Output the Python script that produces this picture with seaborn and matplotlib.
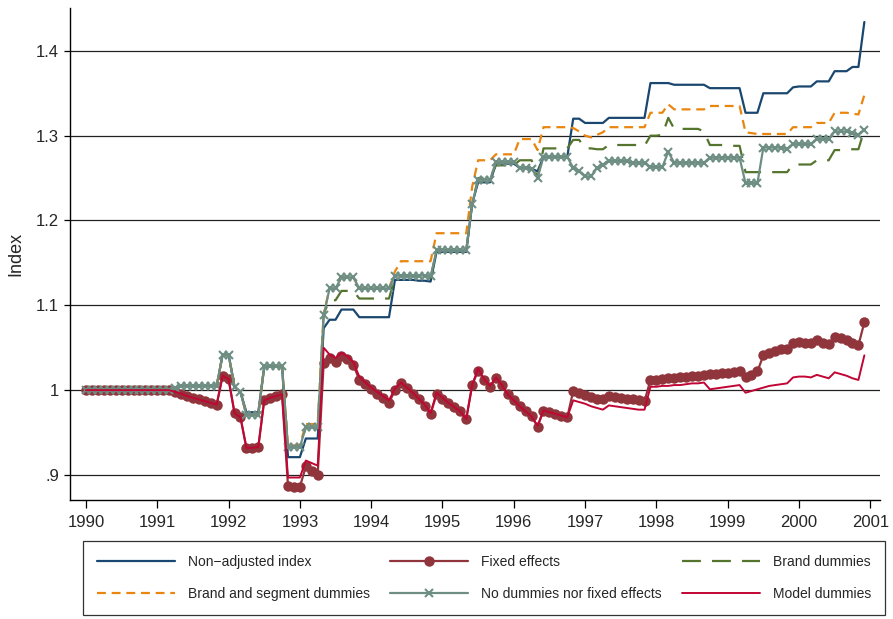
import numpy as np
import pandas as pd
import matplotlib
matplotlib.use("Agg")
import matplotlib.pyplot as plt
import seaborn as sns

# monthly observations, Jan 1990 .. Dec 2000 (one row of 12 per year)
start_year = 1990
n_months = 132

non_adjusted = [
    1.000, 1.000, 1.000, 1.000, 1.000, 1.000, 1.000, 1.000, 1.000, 1.000, 1.000, 1.000,
    1.000, 1.000, 1.000, 1.003, 1.005, 1.005, 1.005, 1.005, 1.005, 1.005, 1.005, 1.042,
    1.042, 1.004, 0.998, 0.974, 0.974, 0.974, 1.028, 1.028, 1.028, 1.028, 0.921, 0.921,
    0.921, 0.943, 0.943, 0.943, 1.073, 1.083, 1.083, 1.095, 1.095, 1.095, 1.086, 1.086,
    1.086, 1.086, 1.086, 1.086, 1.130, 1.130, 1.130, 1.130, 1.129, 1.129, 1.128, 1.163,
    1.163, 1.163, 1.163, 1.163, 1.163, 1.220, 1.245, 1.245, 1.245, 1.267, 1.267, 1.267,
    1.267, 1.262, 1.262, 1.261, 1.258, 1.275, 1.275, 1.275, 1.275, 1.275, 1.320, 1.320,
    1.315, 1.315, 1.315, 1.315, 1.321, 1.321, 1.321, 1.321, 1.321, 1.321, 1.321, 1.362,
    1.362, 1.362, 1.362, 1.360, 1.360, 1.360, 1.360, 1.360, 1.360, 1.356, 1.356, 1.356,
    1.356, 1.356, 1.356, 1.327, 1.327, 1.327, 1.350, 1.350, 1.350, 1.350, 1.350, 1.357,
    1.358, 1.358, 1.358, 1.364, 1.364, 1.364, 1.376, 1.376, 1.376, 1.381, 1.381, 1.434,
]

fixed_effects = [
    1.000, 1.000, 1.000, 1.000, 1.000, 1.000, 1.000, 1.000, 1.000, 1.000, 1.000, 1.000,
    1.000, 1.000, 1.000, 0.998, 0.996, 0.993, 0.991, 0.989, 0.987, 0.985, 0.983, 1.017,
    1.013, 0.973, 0.968, 0.932, 0.932, 0.933, 0.988, 0.991, 0.993, 0.995, 0.887, 0.886,
    0.886, 0.910, 0.905, 0.900, 1.032, 1.038, 1.033, 1.040, 1.037, 1.030, 1.012, 1.007,
    1.001, 0.996, 0.991, 0.985, 1.000, 1.008, 1.002, 0.996, 0.989, 0.981, 0.972, 0.995,
    0.990, 0.985, 0.980, 0.975, 0.966, 1.006, 1.023, 1.012, 1.004, 1.014, 1.006, 0.995,
    0.988, 0.981, 0.975, 0.969, 0.957, 0.976, 0.974, 0.972, 0.970, 0.968, 0.999, 0.997,
    0.994, 0.992, 0.990, 0.989, 0.993, 0.992, 0.991, 0.990, 0.989, 0.988, 0.987, 1.012,
    1.012, 1.013, 1.014, 1.014, 1.015, 1.016, 1.017, 1.017, 1.018, 1.019, 1.019, 1.020,
    1.020, 1.021, 1.022, 1.016, 1.018, 1.022, 1.041, 1.044, 1.046, 1.048, 1.049, 1.055,
    1.057, 1.056, 1.055, 1.059, 1.056, 1.054, 1.063, 1.061, 1.059, 1.056, 1.053, 1.080,
]

brand_dummies = [
    1.000, 1.000, 1.000, 1.000, 1.000, 1.000, 1.000, 1.000, 1.000, 1.000, 1.000, 1.000,
    1.000, 1.000, 1.000, 1.003, 1.005, 1.005, 1.005, 1.005, 1.005, 1.005, 1.005, 1.042,
    1.042, 1.004, 0.998, 0.971, 0.971, 0.971, 1.028, 1.028, 1.028, 1.028, 0.933, 0.933,
    0.933, 0.956, 0.956, 0.956, 1.090, 1.106, 1.106, 1.117, 1.117, 1.117, 1.108, 1.108,
    1.108, 1.108, 1.108, 1.108, 1.133, 1.135, 1.135, 1.135, 1.134, 1.133, 1.132, 1.165,
    1.165, 1.165, 1.165, 1.165, 1.165, 1.220, 1.250, 1.250, 1.250, 1.265, 1.265, 1.265,
    1.265, 1.271, 1.271, 1.271, 1.250, 1.285, 1.285, 1.285, 1.285, 1.285, 1.295, 1.295,
    1.285, 1.285, 1.284, 1.284, 1.289, 1.289, 1.289, 1.289, 1.289, 1.289, 1.288, 1.300,
    1.300, 1.301, 1.321, 1.308, 1.308, 1.308, 1.308, 1.308, 1.305, 1.289, 1.289, 1.289,
    1.288, 1.288, 1.288, 1.257, 1.257, 1.257, 1.257, 1.257, 1.257, 1.257, 1.257, 1.266,
    1.266, 1.266, 1.266, 1.271, 1.271, 1.271, 1.283, 1.283, 1.283, 1.284, 1.284, 1.307,
]

brand_segment = [
    1.000, 1.000, 1.000, 1.000, 1.000, 1.000, 1.000, 1.000, 1.000, 1.000, 1.000, 1.000,
    1.000, 1.000, 1.000, 1.003, 1.005, 1.005, 1.005, 1.005, 1.005, 1.005, 1.005, 1.042,
    1.042, 1.004, 0.998, 0.971, 0.971, 0.971, 1.028, 1.028, 1.028, 1.028, 0.935, 0.935,
    0.935, 0.960, 0.960, 0.960, 1.090, 1.120, 1.120, 1.133, 1.133, 1.133, 1.120, 1.120,
    1.120, 1.120, 1.120, 1.120, 1.140, 1.152, 1.152, 1.152, 1.152, 1.152, 1.152, 1.185,
    1.185, 1.185, 1.185, 1.185, 1.185, 1.240, 1.271, 1.271, 1.271, 1.278, 1.278, 1.278,
    1.278, 1.296, 1.296, 1.296, 1.283, 1.310, 1.310, 1.310, 1.310, 1.310, 1.309, 1.305,
    1.300, 1.298, 1.301, 1.304, 1.310, 1.310, 1.310, 1.310, 1.310, 1.310, 1.310, 1.327,
    1.327, 1.327, 1.337, 1.331, 1.331, 1.331, 1.331, 1.331, 1.331, 1.335, 1.335, 1.335,
    1.335, 1.335, 1.335, 1.304, 1.303, 1.302, 1.302, 1.302, 1.302, 1.302, 1.302, 1.310,
    1.310, 1.310, 1.310, 1.315, 1.315, 1.315, 1.327, 1.327, 1.327, 1.326, 1.325, 1.348,
]

no_dummies = [
    1.000, 1.000, 1.000, 1.000, 1.000, 1.000, 1.000, 1.000, 1.000, 1.000, 1.000, 1.000,
    1.000, 1.000, 1.000, 1.003, 1.005, 1.005, 1.005, 1.005, 1.005, 1.005, 1.005, 1.042,
    1.042, 1.004, 0.998, 0.971, 0.971, 0.971, 1.028, 1.028, 1.028, 1.028, 0.933, 0.933,
    0.933, 0.956, 0.956, 0.956, 1.088, 1.120, 1.120, 1.133, 1.133, 1.133, 1.120, 1.120,
    1.120, 1.120, 1.120, 1.120, 1.135, 1.135, 1.135, 1.135, 1.135, 1.135, 1.134, 1.165,
    1.165, 1.165, 1.165, 1.165, 1.165, 1.220, 1.248, 1.248, 1.248, 1.269, 1.269, 1.269,
    1.269, 1.262, 1.262, 1.261, 1.250, 1.275, 1.275, 1.275, 1.275, 1.275, 1.262, 1.258,
    1.252, 1.252, 1.262, 1.266, 1.270, 1.270, 1.270, 1.270, 1.268, 1.268, 1.268, 1.263,
    1.263, 1.263, 1.281, 1.268, 1.268, 1.268, 1.268, 1.268, 1.268, 1.274, 1.274, 1.274,
    1.274, 1.274, 1.274, 1.244, 1.244, 1.244, 1.286, 1.286, 1.286, 1.286, 1.284, 1.290,
    1.290, 1.290, 1.290, 1.296, 1.296, 1.296, 1.305, 1.305, 1.305, 1.303, 1.301, 1.307,
]

model_dummies = [
    1.000, 1.000, 1.000, 1.000, 1.000, 1.000, 1.000, 1.000, 1.000, 1.000, 1.000, 1.000,
    1.000, 1.000, 1.000, 0.998, 0.996, 0.993, 0.991, 0.989, 0.987, 0.985, 0.983, 1.017,
    1.013, 0.973, 0.968, 0.932, 0.932, 0.933, 0.988, 0.991, 0.993, 0.995, 0.897, 0.897,
    0.897, 0.917, 0.914, 0.911, 1.050, 1.042, 1.038, 1.044, 1.040, 1.033, 1.016, 1.009,
    1.003, 0.998, 0.993, 0.988, 1.002, 1.009, 1.003, 0.997, 0.990, 0.983, 0.973, 0.997,
    0.991, 0.985, 0.980, 0.975, 0.966, 1.006, 1.026, 1.013, 1.005, 1.015, 1.006, 0.995,
    0.988, 0.981, 0.975, 0.969, 0.958, 0.976, 0.974, 0.972, 0.970, 0.968, 0.988, 0.986,
    0.984, 0.981, 0.979, 0.977, 0.982, 0.981, 0.980, 0.979, 0.978, 0.977, 0.977, 1.004,
    1.004, 1.005, 1.005, 1.006, 1.006, 1.007, 1.008, 1.008, 1.009, 1.001, 1.002, 1.003,
    1.004, 1.005, 1.006, 0.997, 0.999, 1.001, 1.003, 1.005, 1.006, 1.007, 1.008, 1.015,
    1.016, 1.016, 1.015, 1.018, 1.016, 1.014, 1.021, 1.019, 1.017, 1.014, 1.012, 1.041,
]

x_years = list(range(1990, 2002))
y_ticks = [0.9, 1.0, 1.1, 1.2, 1.3, 1.4]
y_ticklabels = [".9", "1", "1.1", "1.2", "1.3", "1.4"]

df = pd.DataFrame({
    "t": start_year + np.arange(n_months) / 12.0,
    "na": non_adjusted,
    "fe": fixed_effects,
    "bd": brand_dummies,
    "bs": brand_segment,
    "nd": no_dummies,
    "md": model_dummies,
})

# --- style -------------------------------------------------------------------
sns.set_theme(style="white")
plt.rcParams["font.family"] = ["Liberation Sans", "DejaVu Sans"]

fig = plt.figure(figsize=(8.93, 6.19), dpi=100)
ax = fig.add_axes([70 / 893, 1 - 500 / 619, 810 / 893, 492 / 619])

# draw order follows the legend (row by row), model dummies on top
series = [
    ("na", "Non\u2212adjusted index", dict(color="#1a476f", lw=1.6)),
    ("fe", "Fixed effects", dict(color="#90353b", lw=1.6, marker="o", markersize=7.5,
                                 markeredgewidth=0, markeredgecolor="#90353b")),
    ("bd", "Brand dummies", dict(color="#55752f", lw=1.6, linestyle=(0, (8.5, 5)))),
    ("bs", "Brand and segment dummies", dict(color="#e8860f", lw=1.6, linestyle=(0, (4, 2.6)))),
    ("nd", "No dummies nor fixed effects", dict(color="#6e8e84", lw=1.6, marker="x",
                                                markersize=5.5, markeredgewidth=1.5,
                                                markeredgecolor="#6e8e84")),
    ("md", "Model dummies", dict(color="#c10534", lw=1.4)),
]

handles = {}
for col, label, kw in series:
    sns.lineplot(data=df, x="t", y=col, ax=ax, label=label, legend=False, **kw)
    handles[label] = ax.lines[-1]

# --- axes --------------------------------------------------------------------
ax.set_xlim(1989.776, 2001.136)
ax.set_ylim(0.8705, 1.4505)
ax.set_xticks(x_years)
ax.set_xticklabels([str(y) for y in x_years], fontsize=12)
ax.set_yticks(y_ticks)
ax.set_yticklabels(y_ticklabels, fontsize=12)
ax.set_xlabel("")
ax.set_ylabel("Index", fontsize=13, labelpad=8)

for y in y_ticks:
    ax.axhline(y, color="#222222", lw=0.9, zorder=0)

for side in ["top", "right"]:
    ax.spines[side].set_visible(False)
for side in ["left", "bottom"]:
    ax.spines[side].set_color("black")
    ax.spines[side].set_linewidth(1.0)
ax.tick_params(axis="x", direction="out", length=6, width=0.9, color="black", pad=5, bottom=True)
ax.tick_params(axis="y", direction="out", length=4, width=0.9, color="black", pad=4, left=True)

# --- legend (matplotlib fills columns, so order column by column) ------------
order = ["Non\u2212adjusted index", "Brand and segment dummies",
         "Fixed effects", "No dummies nor fixed effects",
         "Brand dummies", "Model dummies"]
leg = fig.legend([handles[k] for k in order], order,
                 loc="lower left", bbox_to_anchor=(83 / 893, 4 / 619, 802 / 893, 75 / 619),
                 mode="expand", ncol=3, frameon=True, fancybox=False, edgecolor="black",
                 fontsize=10, handlelength=5.6, handletextpad=0.95, borderpad=1.0,
                 labelspacing=1.3, borderaxespad=0)
leg.get_frame().set_linewidth(0.9)

plt.savefig("out.png", dpi=100)
plt.close()
